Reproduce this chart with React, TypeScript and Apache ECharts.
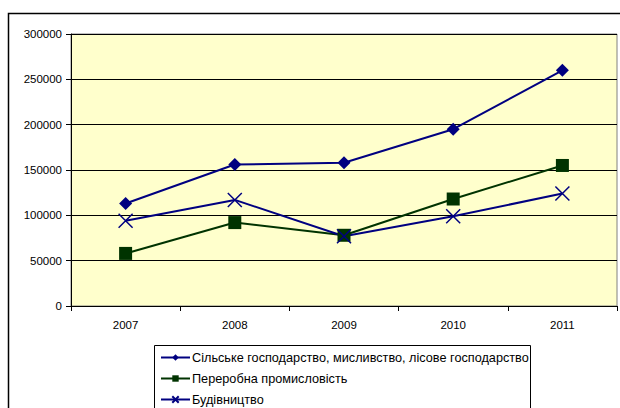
import React, { useEffect, useRef } from "react";
import * as echarts from "echarts";

const years = ["2007", "2008", "2009", "2010", "2011"];
const agriculture = [113000, 156000, 158000, 195000, 260000];
const manufacturing = [58000, 92000, 78000, 118000, 155000];
const construction = [94000, 117000, 77000, 99000, 124000];
const seriesNames = [
  "Сільське господарство, мисливство, лісове господарство",
  "Переробна промисловість",
  "Будівництво",
];

const FONT = "Liberation Sans, Arial, sans-serif";
const X_PATH = "path://M0,0L10,10M10,0L0,10";
const legendTops = [351, 372, 393];

export default function App() {
  const ref = useRef<HTMLDivElement>(null);
  useEffect(() => {
    if (!ref.current) return;
    const chart = echarts.init(ref.current, undefined, { renderer: "svg" });
    chart.setOption({
      animation: false,
      backgroundColor: "#ffffff",
      textStyle: { fontFamily: FONT },
      graphic: [
        {
          type: "rect",
          shape: { x: 8.5, y: 13.5, width: 640, height: 440 },
          style: { fill: "none", stroke: "#000000", lineWidth: 1.5 },
          silent: true,
          z: -1,
        },
        {
          type: "rect",
          shape: { x: 154.5, y: 345.5, width: 376, height: 70 },
          style: { fill: "#ffffff", stroke: "#000000", lineWidth: 1 },
          silent: true,
          z: 0,
        },
      ],
      grid: {
        left: 71,
        top: 34,
        width: 546,
        height: 272,
        show: true,
        backgroundColor: "#FFFFCC",
        borderColor: "#808080",
        borderWidth: 1,
      },
      xAxis: {
        type: "category",
        data: years,
        boundaryGap: true,
        axisLine: { show: true, lineStyle: { color: "#000000", width: 1 } },
        axisTick: { show: true, alignWithLabel: false, length: 5, lineStyle: { color: "#000000" } },
        axisLabel: { color: "#000000", fontSize: 11.5, margin: 13, fontFamily: FONT },
        splitLine: { show: false },
      },
      yAxis: {
        type: "value",
        min: 0,
        max: 300000,
        interval: 50000,
        axisLine: { show: true, lineStyle: { color: "#000000", width: 1 } },
        axisTick: { show: true, length: 5, lineStyle: { color: "#000000" } },
        axisLabel: {
          color: "#000000",
          fontSize: 11.5,
          margin: 9,
          fontFamily: FONT,
          formatter: (v: number) => String(v),
        },
        splitLine: { show: true, lineStyle: { color: "#000000", width: 1 } },
      },
      legend: seriesNames.map((name, i) => ({
        orient: "horizontal",
        left: 160,
        top: legendTops[i],
        itemWidth: 29,
        itemHeight: 8,
        padding: 0,
        z: 5,
        textStyle: { color: "#000000", fontSize: 12.7, fontFamily: FONT, padding: [0, 0, 0, -3] },
        data: [name],
      })),
      series: [
        {
          name: seriesNames[0],
          type: "line",
          data: agriculture,
          symbol: "diamond",
          symbolSize: 13,
          lineStyle: { color: "#000080", width: 2 },
          itemStyle: { color: "#000080" },
        },
        {
          name: seriesNames[1],
          type: "line",
          data: manufacturing,
          symbol: "rect",
          symbolSize: 13,
          lineStyle: { color: "#003300", width: 2 },
          itemStyle: { color: "#003300" },
        },
        {
          name: seriesNames[2],
          type: "line",
          data: construction,
          symbol: X_PATH,
          symbolSize: 14,
          lineStyle: { color: "#000080", width: 2 },
          itemStyle: { color: "none", borderColor: "#000080", borderWidth: 1.5 },
        },
      ],
    });
    return () => chart.dispose();
  }, []);
  return (
    <div
      ref={ref}
      style={{ position: "absolute", left: 0, top: 0, width: 620, height: 408 }}
    />
  );
}
